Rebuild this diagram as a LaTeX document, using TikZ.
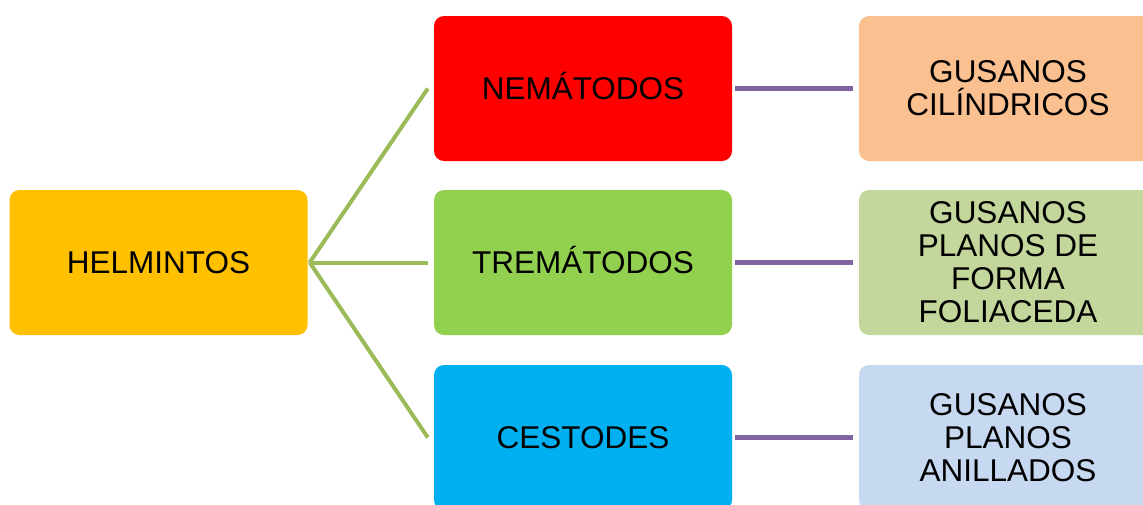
\documentclass[tikz,border=0pt]{standalone}
\usepackage{fontspec}
\setmainfont{Liberation Sans}
\definecolor{helmgold}{HTML}{FFC000}
\definecolor{nemred}{HTML}{FF0000}
\definecolor{tremgreen}{HTML}{92D050}
\definecolor{cestblue}{HTML}{00B0F0}
\definecolor{peach}{HTML}{FAC090}
\definecolor{sage}{HTML}{C3D69B}
\definecolor{paleblue}{HTML}{C6D9F1}
\definecolor{branchgreen}{HTML}{9BBB59}
\definecolor{linkpurple}{HTML}{8064A2}
% accents do not push the label off centre
\newcommand{\capsonly}[1]{\smash{#1}\vphantom{H}}

\begin{document}
\begin{tikzpicture}[
      x=1pt, y=-1pt,
      Worm box/.style ={rounded corners=10pt, fill=#1, minimum width=298pt,
        minimum height=145pt, inner sep=0pt, align=center,
        font=\fontsize{31.5}{33}\selectfont},
      Worm box/.default=white,
      branch/.style ={draw=branchgreen, line width=4pt},
      link/.style ={draw=linkpurple, line width=5pt, shorten <=3pt, shorten >=6pt}]
    \useasboundingbox (0,0) rectangle (1143,504);
    \clip (0,0) rectangle (1143,504);
    \node[Worm box=helmgold] (helm) at (158.5,262.5) {HELMINTOS};
    \node[Worm box=nemred] (nema) at (583,88.5) {\capsonly{NEMÁTODOS}};
    \node[Worm box=tremgreen] (trema) at (583,262.5) {\capsonly{TREMÁTODOS}};
    \node[Worm box=cestblue] (cesto) at (583,437.5) {CESTODES};
    \node[Worm box=peach] (cilin) at (1008,88.5) {GUSANOS\\CILÍNDRICOS};
    \node[Worm box=sage] (folia) at (1008,262.5) {GUSANOS\\PLANOS DE\\FORMA\\FOLIACEDA};
    \node[Worm box=paleblue] (anill) at (1008,437.5) {GUSANOS\\PLANOS\\ANILLADOS};
    % branches end a little short of the boxes
    \coordinate (hub) at ([xshift=2pt]helm.east);
    \draw[branch] (hub) -- ([xshift=-6pt]nema.west);
    \draw[branch] (hub) -- ([xshift=-6pt]trema.west);
    \draw[branch] (hub) -- ([xshift=-6pt]cesto.west);
    \draw[link] (nema.east) -- (cilin.west);
    \draw[link] (trema.east) -- (folia.west);
    \draw[link] (cesto.east) -- (anill.west);
    \end{tikzpicture}
\end{document}
